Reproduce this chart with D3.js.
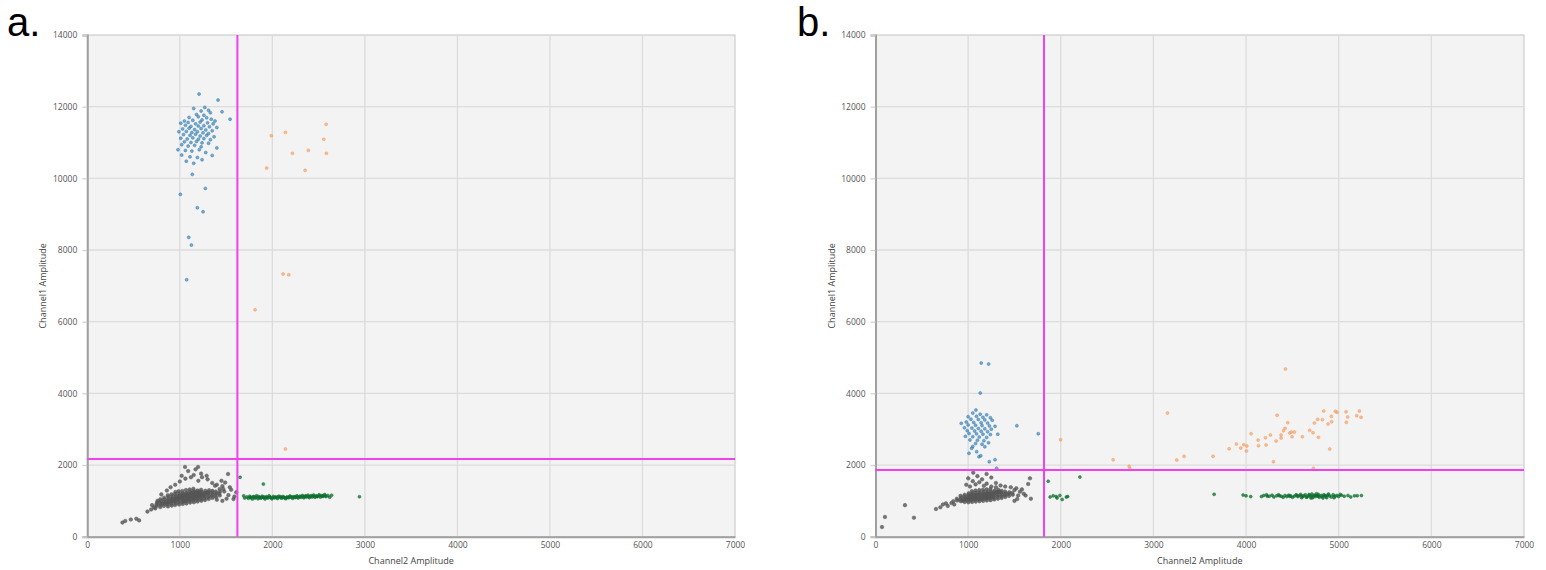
<!DOCTYPE html>
<html><head><meta charset="utf-8">
<script src="https://cdn.jsdelivr.net/npm/d3@7"></script>
<style>body{margin:0;background:#fff}svg{display:block}</style>
</head><body>
<svg id="chart" width="1546" height="570"></svg>
<script>
// ---- tick labels / axis titles ----
const xTicks = [0,1000,2000,3000,4000,5000,6000,7000];
const yTicks = [0,2000,4000,6000,8000,10000,12000,14000];
const xTitle = "Channel2 Amplitude";
const yTitle = "Channel1 Amplitude";
const panelLabels = ["a.", "b."];

// ---- thresholds [channel2, channel1] ----
const thresholdA = [1622, 2167];
const thresholdB = [1819, 1861];

// ---- panel a droplets [channel2, channel1] ----
const grayA = [
[752,862],[748,905],[755,958],[760,1004],
[788,826],[792,884],[786,938],[795,996],[790,1046],
[828,858],[834,918],[826,976],[832,1034],[830,1088],
[872,846],[866,902],[874,948],[868,1002],[872,1054],[876,1108],[870,1158],
[912,868],[906,922],[914,972],[908,1022],[912,1068],[916,1122],[910,1182],
[948,884],[954,932],[946,978],[952,1028],[950,1082],[956,1134],[948,1188],[952,1246],
[992,898],[986,952],[994,1002],[988,1052],[992,1098],[996,1152],[990,1204],[986,1268],
[1032,912],[1026,962],[1034,1008],[1028,1062],[1030,1112],[1036,1158],[1030,1212],[1026,1276],
[1072,928],[1066,982],[1074,1028],[1068,1082],[1072,1128],[1076,1182],[1070,1228],[1066,1302],
[1112,952],[1106,1002],[1114,1048],[1108,1098],[1112,1152],[1116,1198],[1110,1262],[1106,1318],
[1152,962],[1146,1012],[1154,1058],[1148,1108],[1152,1162],[1156,1208],[1150,1268],[1146,1338],
[1192,982],[1186,1028],[1194,1082],[1188,1132],[1192,1178],[1196,1232],[1190,1288],
[1232,1002],[1226,1048],[1234,1102],[1228,1152],[1232,1198],[1236,1252],[1230,1308],
[1272,1022],[1266,1068],[1274,1122],[1268,1172],[1272,1218],[1276,1282],
[1312,1052],[1306,1098],[1314,1152],[1308,1202],[1312,1248],[1316,1298],
[1352,1082],[1346,1128],[1354,1182],[1348,1232],[1352,1278],
[1392,1102],[1386,1158],[1394,1212],[1388,1262],
[1432,1148],[1426,1202],[1434,1258],
[970,1030],[1010,1080],[1050,1100],[1090,1120],[1130,1140],[1170,1160],[1210,1180],[1250,1200],[1290,1220],
[1050,1000],[1090,1050],[1130,1070],[1170,1090],[1210,1120],[1250,1140],[1010,1150],[1050,1180],
[1090,1200],[1130,1230],[1170,1250],[1210,1260],[930,1000],[890,980],[850,950],[810,920],[970,1100],[930,1060],
[380,395],[410,440],[470,480],[530,500],[560,455],[650,700],[690,760],[720,820],[700,880],[735,790],
[1056,1945],[1197,1945],[1521,1749],[1090,1830],[1150,1720],[1240,1660],[1300,1600],[1060,1620],
[1000,1540],[1200,1560],[1350,1500],[1400,1450],[1460,1410],[1490,1510],[1555,1310],[1480,1260],
[1525,1160],[1505,1060],[1590,1120],[1610,1240],[1450,1560],[900,1380],[950,1450],[860,1290],
[800,1180],[1380,1420],[1120,1660],[1170,1880],[1230,1760],[1290,1700],[1020,1700],[1430,1330],
[1470,1330],[1540,1380],[1580,1050],[1460,1000],[1400,1030]
];
const blueA = [
[1208,12352],[1413,12185],[1543,11652],[1456,11858],[1150,11950],[1270,11980],[1310,11900],[1230,11880],
[1330,11830],[1180,11780],[1260,11760],[1100,11700],[1200,11720],[1290,11690],[1340,11650],[1050,11600],
[1140,11620],[1240,11630],[1380,11600],[1010,11540],[1090,11560],[1170,11520],[1220,11570],[1300,11550],
[1360,11520],[1060,11480],[1120,11450],[1200,11460],[1260,11470],[1320,11440],[1400,11420],[1030,11380],
[1100,11400],[1160,11360],[1230,11390],[1280,11350],[1350,11330],[990,11300],[1070,11310],[1130,11280],
[1190,11300],[1250,11270],[1310,11250],[1040,11220],[1110,11200],[1170,11230],[1220,11180],[1290,11200],
[1370,11160],[1010,11120],[1080,11100],[1140,11130],[1200,11090],[1260,11110],[1330,11080],[1050,11020],
[1120,11000],[1180,11030],[1240,10990],[1310,10980],[1020,10940],[1090,10900],[1160,10920],[1230,10880],
[1400,10850],[980,10800],[1060,10780],[1130,10760],[1210,10800],[1280,10720],[1020,10650],[1110,10600],
[1190,10580],[1350,10640],[1070,10480],[1150,10420],[1240,10520],
[1135,10111],[1276,9720],[1006,9553],[1189,9180],[1251,9068],[1096,8354],[1125,8139],[1074,7171]
];
const orangeA = [
[1989,11189],[2141,11283],[2581,11507],[2556,11088],[2217,10697],[2389,10781],[2584,10697],
[1939,10287],[2354,10223],[2116,7330],[2177,7310],[1813,6333],[2141,2447]
];
const greenA = [
[1725,1110],[1740,1070],[1755,1130],[1770,1090],[1785,1050],[1800,1120],[1815,1080],[1830,1140],
[1845,1060],[1860,1100],[1875,1075],[1890,1130],[1905,1090],[1920,1055],[1935,1115],[1950,1080],
[1965,1140],[1980,1095],[1995,1060],[2010,1120],[2025,1085],[2040,1105],[2055,1065],[2070,1130],
[2085,1095],[2100,1075],[2115,1120],[2130,1090],[2145,1060],[2160,1110],[2175,1085],[2190,1135],
[2205,1100],[2220,1070],[2235,1120],[2250,1095],[2265,1140],[2280,1080],[2295,1115],[2310,1100],
[2325,1150],[2340,1085],[2355,1125],[2370,1105],[2385,1160],[2400,1090],[2415,1130],[2430,1110],
[2445,1165],[2460,1100],[2475,1140],[2490,1120],[2505,1170],[2520,1105],[2535,1150],[2550,1130],
[2565,1175],[2580,1120],[2600,1150],
[1760,1100],[1790,1110],[1820,1100],[1850,1120],[1880,1100],[1910,1110],[1940,1095],[1970,1105],
[2000,1090],[2030,1100],[2060,1110],[2090,1115],[2120,1100],[2150,1095],[2180,1105],[2210,1115],
[2240,1100],[2270,1110],[2300,1130],[2330,1120],[2360,1140],[2390,1125],[2420,1145],[2450,1130],
[2480,1120],[2510,1140],[2540,1130],[2570,1145],
[1651,1657],[1903,1470],[2941,1116],[1700,1080],[1690,1140],[2640,1160],[2620,1100]
];

// ---- panel b droplets [channel2, channel1] ----
const grayB = [
[882,1010],[878,1060],
[922,990],[916,1040],[924,1090],[918,1140],
[962,970],[956,1020],[964,1070],[958,1120],[962,1170],
[1002,960],[996,1010],[1004,1060],[998,1110],[1002,1160],[1006,1210],
[1042,970],[1036,1020],[1044,1070],[1038,1120],[1042,1170],[1046,1220],[1040,1270],
[1082,980],[1076,1030],[1084,1080],[1078,1130],[1082,1180],[1086,1230],[1080,1290],
[1122,990],[1116,1040],[1124,1090],[1118,1140],[1122,1190],[1126,1240],[1120,1300],
[1162,1000],[1156,1050],[1164,1100],[1158,1150],[1162,1200],[1166,1250],[1160,1310],
[1202,1010],[1196,1060],[1204,1110],[1198,1160],[1202,1210],[1206,1260],[1200,1320],
[1242,1020],[1236,1070],[1244,1120],[1238,1170],[1242,1220],[1246,1270],[1240,1330],
[1282,1040],[1276,1090],[1284,1140],[1278,1190],[1282,1240],[1286,1290],
[1322,1060],[1316,1110],[1324,1160],[1318,1210],[1322,1260],[1326,1310],
[1362,1080],[1356,1130],[1364,1180],[1358,1230],[1362,1280],
[1402,1110],[1396,1160],[1404,1210],[1398,1260],
[1442,1140],[1436,1190],[1444,1240],
[1482,1170],[1476,1220],
[940,1010],[980,1050],[1020,1040],[1060,1050],[1100,1060],[1140,1070],[1180,1080],[1220,1090],[1260,1110],
[1020,1140],[1060,1150],[1100,1160],[1140,1170],[1180,1180],[1220,1190],[1260,1200],[1300,1230],[1340,1250],
[415,530],[70,270],[102,550],[318,880],[653,773],[728,900],[780,860],[820,940],[850,900],[760,930],
[700,820],[840,990],[1055,1786],[1199,1750],[1001,1629],[1100,1690],[1150,1600],[1050,1550],[1250,1650],
[1120,1520],[1080,1460],[1200,1480],[1300,1500],[1350,1430],[1400,1400],[1460,1380],[1520,1350],
[1559,1256],[1667,1629],[1648,1470],[1677,1060],[1600,1200],[1540,1150],[1500,1300],[1580,1320],
[1620,1150],[980,1450],[1020,1400],[1170,1420],[1250,1400],[1300,1380],[1530,1050],[1500,1000]
];
const blueB = [
[1141,4846],[1221,4819],[1131,4010],[1084,3535],[1526,3097],[1757,2874],[926,3164],
[1050,3450],[1130,3420],[1200,3400],[1000,3350],[1090,3360],[1160,3330],[1240,3320],[1030,3280],
[1110,3270],[1180,3260],[1260,3250],[980,3200],[1060,3190],[1140,3180],[1210,3170],[1000,3120],
[1080,3110],[1150,3100],[1230,3090],[1290,3080],[960,3040],[1040,3030],[1110,3020],[1180,3010],
[1250,3000],[990,2960],[1070,2950],[1140,2940],[1210,2930],[1010,2880],[1090,2870],[1160,2860],
[1240,2850],[1320,2860],[970,2800],[1050,2790],[1120,2780],[1200,2770],[1020,2700],[1100,2690],
[1170,2680],[1080,2600],[1150,2580],[1220,2620],[1050,2520],[1180,2510],
[1009,2327],[1092,2372],[1117,2232],[1136,2260],[1228,2093],[1307,1908],[1038,2466],[1290,2150]
];
const orangeB = [
[2565,2149],[2738,1964],[2746,1897],[3152,3451],[3252,2140],[3331,2243],[3644,2243],[3817,2455],
[3896,2587],[3943,2475],[3975,2567],[4008,2531],[4004,2391],[4054,2874],[4130,2698],[4134,2539],
[4209,2762],[4216,2559],[4263,2838],[4296,2093],[4324,2670],[4335,3387],[4378,2838],[4378,2754],
[4404,2958],[4421,3024],[4425,4679],[4450,3182],[4471,2893],[4489,2921],[4522,2921],[4496,2790],
[4608,2790],[4687,2968],[4723,2902],[4727,1908],[4738,3172],[4781,2773],[4773,3275],[4824,3266],
[4838,3507],[4885,3144],[4903,2446],[4921,3359],[4924,3209],[4964,3498],[4982,3470],[5079,3488],
[5097,3340],[5083,3191],[5194,3377],[5223,3507],[5241,3331],[1998,2707]
];
const greenB = [
[1864,1546],[2206,1666],[1885,1110],[1918,1140],[1950,1120],[1990,1150],[2015,1040],[2060,1110],
[2075,1120],[1960,1080],[3655,1183],[3968,1163],[4000,1140],[4050,1120],
[4166,1120],[4190,1150],[4220,1170],[4250,1130],[4280,1160],[4300,1110],[4330,1140],[4350,1170],
[4380,1130],[4400,1100],[4420,1150],[4440,1120],[4460,1160],[4480,1140],[4500,1100],[4520,1130],
[4540,1170],[4560,1120],[4580,1150],[4600,1090],[4620,1140],[4640,1170],[4660,1110],[4680,1150],
[4700,1130],[4710,1190],[4720,1090],[4740,1160],[4750,1120],[4770,1140],[4780,1180],[4790,1100],
[4810,1150],[4820,1120],[4840,1170],[4860,1130],[4870,1090],[4880,1160],[4900,1140],[4920,1110],
[4940,1170],[4960,1130],[4980,1150],[5000,1120],[5030,1160],[5060,1130],[5100,1150],[5130,1110],
[5170,1140],[5200,1145],[5245,1150],[4590,1180],[4650,1100],[4700,1080],[4760,1200],[4830,1080],
[4890,1190],[4950,1090],[4730,1140],[4850,1145],[4610,1120],[4550,1150],[4470,1130],[4360,1140],
[4230,1130],[5015,1180],[4780,1135],[4680,1175]
];

const colors = {gray:"#555555", green:"#0c6e2e", blue:"#2a78b0", orange:"#f49a5c", thr:"#f040f0"};
const fillOpacity = {gray:0.8, green:0.75, blue:0.6, orange:0.6};

const panels = [
  {label: panelLabels[0], lx: 7,   left: 87.3,  right: 735,  thr: thresholdA,
   sets: [[grayA,"gray"],[greenA,"green"],[blueA,"blue"],[orangeA,"orange"]]},
  {label: panelLabels[1], lx: 797, left: 875.5, right: 1524, thr: thresholdB,
   sets: [[grayB,"gray"],[greenB,"green"],[blueB,"blue"],[orangeB,"orange"]]}
];
const plotTop = 35, plotBottom = 536.7;
const svg = d3.select("#chart");
const font = "'Open Sans', 'Noto Sans', sans-serif";

panels.forEach(p => {
  const x = d3.scaleLinear().domain([0,7000]).range([p.left, p.right]);
  const y = d3.scaleLinear().domain([0,14000]).range([plotBottom, plotTop]);
  const g = svg.append("g");

  g.append("rect").attr("x", p.left).attr("y", plotTop)
    .attr("width", p.right - p.left).attr("height", plotBottom - plotTop)
    .attr("fill", "#f3f3f3").attr("stroke", "#c4c4c4").attr("stroke-width", 1);

  // grid
  g.append("g").selectAll("line").data(xTicks.slice(1, -1)).join("line")
    .attr("x1", d => x(d)).attr("x2", d => x(d)).attr("y1", plotTop).attr("y2", plotBottom)
    .attr("stroke", "#dcdcdc").attr("stroke-width", 1.3);
  g.append("g").selectAll("line").data(yTicks.slice(1, -1)).join("line")
    .attr("y1", d => y(d)).attr("y2", d => y(d)).attr("x1", p.left).attr("x2", p.right)
    .attr("stroke", "#dcdcdc").attr("stroke-width", 1.3);

  // axes
  const xa = g.append("g").attr("transform", `translate(0,${plotBottom})`)
    .call(d3.axisBottom(x).tickValues(xTicks).tickFormat(d3.format("d")).tickSize(0).tickPadding(5));
  const ya = g.append("g").attr("transform", `translate(${p.left},0)`)
    .call(d3.axisLeft(y).tickValues(yTicks).tickFormat(d3.format("d")).tickSize(5).tickPadding(5));
  [xa, ya].forEach(a => {
    a.select(".domain").attr("stroke", "#a0a0a0").attr("stroke-width", 2);
    a.selectAll(".tick line").attr("stroke", "#cfcfcf").attr("stroke-width", 1.2);
    a.selectAll("text").attr("fill", "#555").style("font-family", font).style("font-size", "8.5px");
  });

  // axis titles
  g.append("text").attr("x", (p.left + p.right) / 2).attr("y", 564)
    .attr("text-anchor", "middle").attr("fill", "#444")
    .style("font-family", font).style("font-size", "9px").text(xTitle);
  g.append("text").attr("transform", `translate(${p.left - 41},${(plotTop + plotBottom) / 2}) rotate(-90)`)
    .attr("text-anchor", "middle").attr("fill", "#444")
    .style("font-family", font).style("font-size", "9px").text(yTitle);

  // droplets
  p.sets.forEach(([data, key]) => {
    const col = colors[key];
    g.append("g").selectAll("circle").data(data).join("circle")
      .attr("cx", d => x(d[0])).attr("cy", d => y(d[1])).attr("r", key === "gray" ? 1.8 : 1.5)
      .attr("fill", col).attr("fill-opacity", fillOpacity[key])
      .attr("stroke", col).attr("stroke-opacity", 0.8).attr("stroke-width", 0.6);
  });

  // thresholds
  g.append("line").attr("x1", x(p.thr[0])).attr("x2", x(p.thr[0])).attr("y1", plotTop).attr("y2", plotBottom)
    .attr("stroke", colors.thr).attr("stroke-width", 2);
  g.append("line").attr("y1", y(p.thr[1])).attr("y2", y(p.thr[1])).attr("x1", p.left).attr("x2", p.right)
    .attr("stroke", colors.thr).attr("stroke-width", 2);

  // panel label
  svg.append("text").attr("x", p.lx).attr("y", 36).attr("fill", "#000")
    .style("font-family", "'Liberation Sans', Arial, sans-serif").style("font-size", "40px").text(p.label);
});
</script>
</body></html>
